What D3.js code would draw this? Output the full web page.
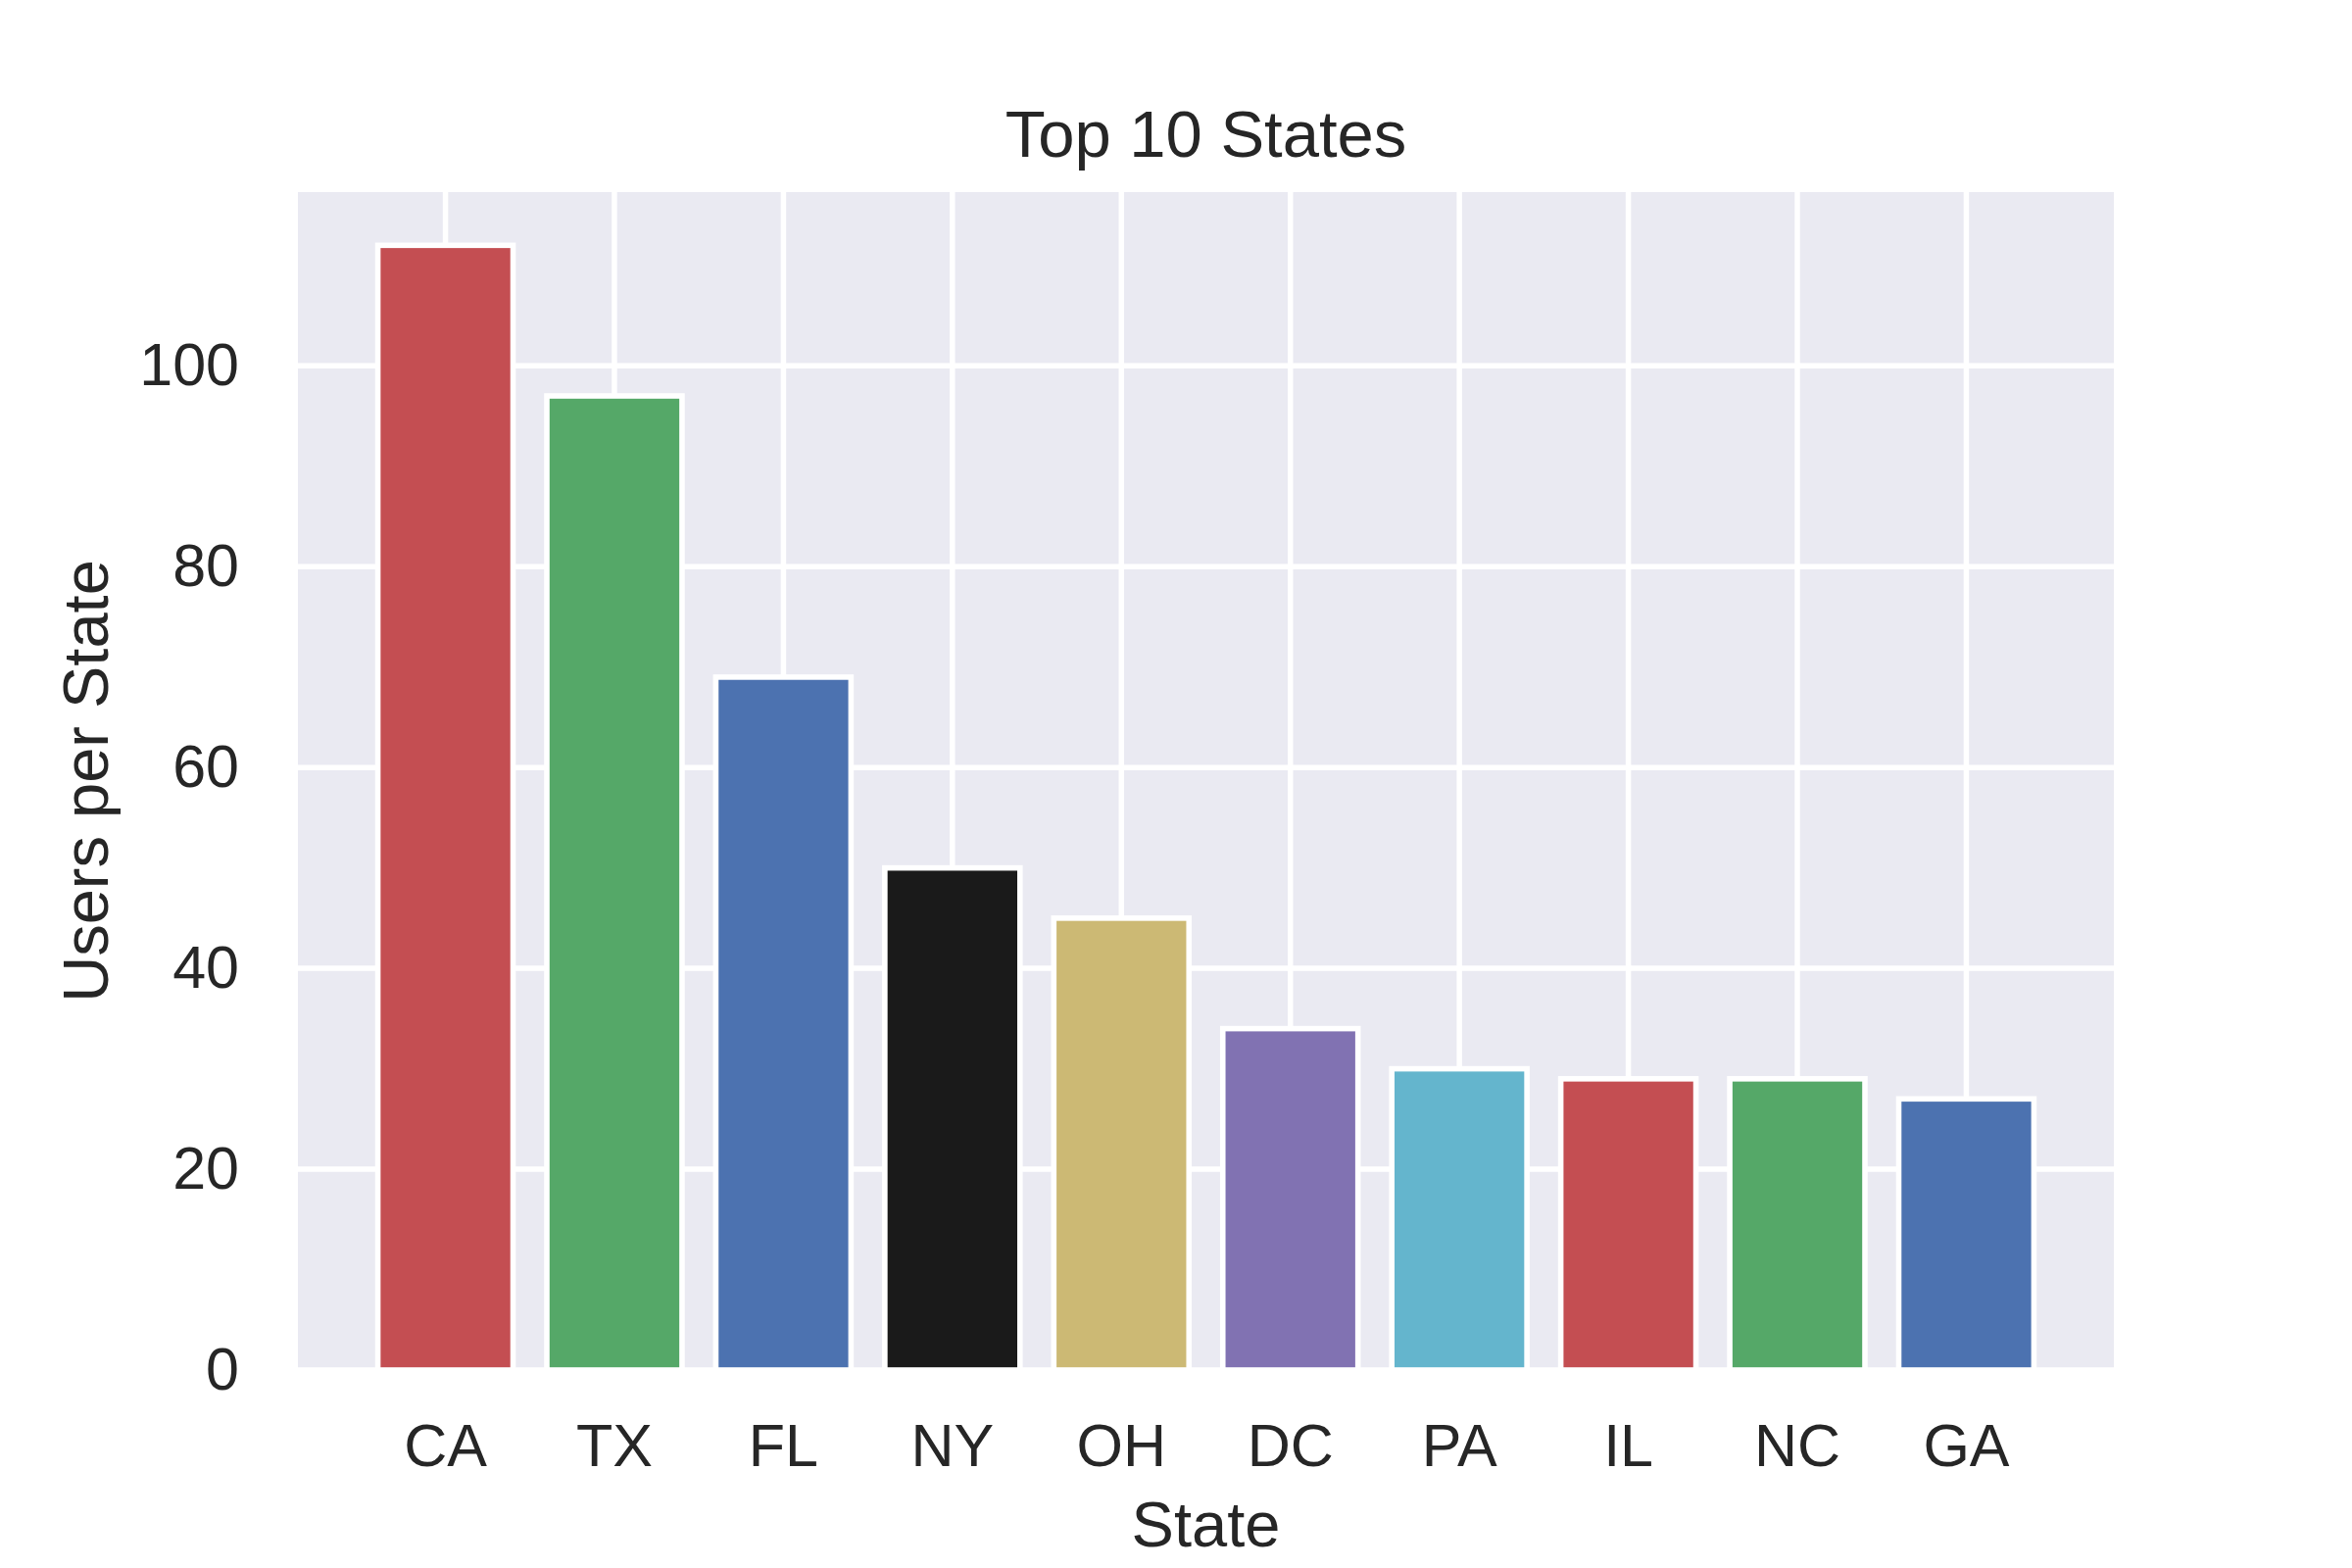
<!DOCTYPE html>
<html>
<head>
<meta charset="utf-8">
<script src="https://cdn.jsdelivr.net/npm/d3@7"></script>
<style>
  body { margin: 0; background: #ffffff; }
  text { font-family: "Liberation Sans", Arial, sans-serif; fill: #262626; }
</style>
</head>
<body>
<svg id="chart" width="2400" height="1600"></svg>
<script>
// data
var states = ["CA", "TX", "FL", "NY", "OH", "DC", "PA", "IL", "NC", "GA"];
var users = [112, 97, 69, 50, 45, 34, 30, 29, 29, 27];
var barColors = ["#C44E52", "#55A868", "#4C72B0", "#1A1A1A", "#CCB974", "#8172B2", "#64B5CD", "#C44E52", "#55A868", "#4C72B0"];
var yTicks = [0, 20, 40, 60, 80, 100];
var yMax = 117.3;

var data = states.map(function(s, i) { return {state: s, value: users[i], color: barColors[i]}; });

var svg = d3.select("#chart");
var plot = {left: 304, right: 2157, top: 196, bottom: 1398};

// x positions like matplotlib bar(): width 0.8 with small margins
var x = d3.scaleBand()
    .domain(states)
    .range([plot.left, plot.right])
    .paddingInner(0.2)
    .paddingOuter(0.473);

var y = d3.scaleLinear()
    .domain([0, yMax])
    .range([plot.bottom, plot.top]);

// background
svg.append("rect")
    .attr("x", plot.left)
    .attr("y", plot.top)
    .attr("width", plot.right - plot.left)
    .attr("height", plot.bottom - plot.top)
    .style("fill", "#EAEAF2");

// grid lines
svg.selectAll("hgrid")
    .data(yTicks).enter()
    .append("line")
        .attr("x1", plot.left).attr("x2", plot.right)
        .attr("y1", function(d) { return y(d); })
        .attr("y2", function(d) { return y(d); })
        .style("stroke", "#ffffff")
        .style("stroke-width", 5.5);

svg.selectAll("vgrid")
    .data(states).enter()
    .append("line")
        .attr("x1", function(d) { return x(d) + x.bandwidth() / 2; })
        .attr("x2", function(d) { return x(d) + x.bandwidth() / 2; })
        .attr("y1", plot.top).attr("y2", plot.bottom)
        .style("stroke", "#ffffff")
        .style("stroke-width", 5.5);

// bars
svg.selectAll("bar")
    .data(data).enter()
    .append("rect")
        .attr("x", function(d) { return x(d.state); })
        .attr("y", function(d) { return y(d.value); })
        .attr("width", x.bandwidth())
        .attr("height", function(d) { return y(0) - y(d.value); })
        .style("fill", function(d) { return d.color; })
        .style("stroke", "#ffffff")
        .style("stroke-width", 5.6);

// axes
var xAxis = svg.append("g")
    .attr("transform", "translate(0," + plot.bottom + ")")
    .call(d3.axisBottom(x).tickSize(0).tickPadding(55));
var yAxis = svg.append("g")
    .attr("transform", "translate(" + plot.left + ",0)")
    .call(d3.axisLeft(y).tickValues(yTicks).tickSize(0).tickPadding(60));

[xAxis, yAxis].forEach(function(g) {
    g.select(".domain").remove();
    g.selectAll("text")
        .style("font-family", "'Liberation Sans', Arial, sans-serif")
        .style("font-size", "61px")
        .style("fill", "#262626");
});

// titles
var cx = (plot.left + plot.right) / 2;
svg.append("text")
    .attr("x", cx).attr("y", 160)
    .style("text-anchor", "middle")
    .style("font-size", "67px")
    .text("Top 10 States");

svg.append("text")
    .attr("x", cx).attr("y", 1578)
    .style("text-anchor", "middle")
    .style("font-size", "65px")
    .text("State");

svg.append("text")
    .attr("transform", "translate(110," + ((plot.top + plot.bottom) / 2) + ") rotate(-90)")
    .style("text-anchor", "middle")
    .style("font-size", "65px")
    .text("Users per State");
</script>
</body>
</html>
